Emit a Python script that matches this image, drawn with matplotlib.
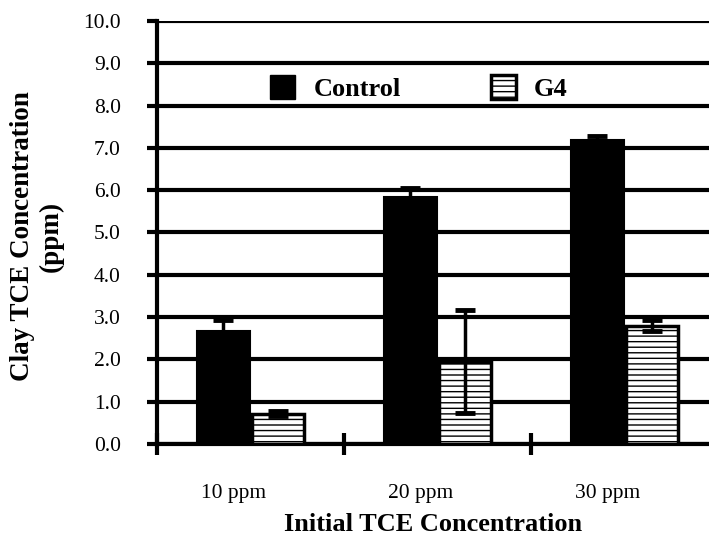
import matplotlib
matplotlib.use("Agg")
import matplotlib.pyplot as plt
import matplotlib.transforms as mtransforms
from matplotlib.patches import Patch
import numpy as np

plt.rcParams['font.family'] = ['Liberation Serif', 'DejaVu Serif']
plt.rcParams['hatch.linewidth'] = 1.0

categories = ['10 ppm', '20 ppm', '30 ppm']
control = [2.67, 5.84, 7.19]
control_err = [0.25, 0.22, 0.10]
g4 = [0.72, 1.95, 2.80]
g4_err = [0.05, 1.22, 0.13]
yticks = [0, 1, 2, 3, 4, 5, 6, 7, 8, 9, 10]

fig = plt.figure(figsize=(7.09, 5.35), dpi=100)
ax = fig.add_axes([157/709, 1-444/535, 1-157/709, (444-21)/535])

x = np.arange(len(categories))
w = 0.28
ax.bar(x - 0.145, control, w, color='black', edgecolor='black', linewidth=1.5,
       yerr=control_err, error_kw=dict(ecolor='black', elinewidth=2.5, capsize=7, capthick=3.5),
       zorder=3, label='Control')
ax.bar(x + 0.148, g4, w, color='white', edgecolor='black', linewidth=2.5, hatch='---',
       yerr=g4_err, error_kw=dict(ecolor='black', elinewidth=2.5, capsize=7, capthick=3.5),
       zorder=3, label='G4')

ax.set_ylim(0, 10)
ax.set_xlim(-0.5, -0.5 + (709-157)/187)
ax.set_yticks(yticks)
ax.set_yticklabels([f'{v:.1f}' for v in yticks], fontsize=15.5)
ax.yaxis.grid(True, color='black', linewidth=3, zorder=0)
ax.set_axisbelow(True)

ax.set_xticks(x)
ax.set_xticklabels(categories, fontsize=15.5)
ax.set_xticks([-0.5, 0.5, 1.5], minor=True)
ax.tick_params(axis='x', which='major', length=0, pad=29)
ax.tick_params(axis='x', which='minor', direction='inout', length=16, width=3)
ax.tick_params(axis='y', which='major', direction='out', length=7, width=3, pad=19)
offset = mtransforms.ScaledTranslation(-17/100, 0, fig.dpi_scale_trans)
for lab in ax.get_xticklabels():
    lab.set_transform(lab.get_transform() + offset)

for s in ['top', 'right']:
    ax.spines[s].set_visible(False)
ax.spines['left'].set_linewidth(3)
ax.spines['bottom'].set_linewidth(3)

ax.set_xlabel('Initial TCE Concentration', fontsize=19, fontweight='bold', labelpad=7)
fig.text(37/709, 1-236/535, 'Clay TCE Concentration\n(ppm)', rotation=90,
         ha='center', va='center', fontsize=19.5, fontweight='bold', multialignment='center')

handles = [Patch(facecolor='black', edgecolor='black', label='Control'),
           Patch(facecolor='white', edgecolor='black', linewidth=2.5, hatch='---', label='G4')]
ax.legend(handles=handles, loc='center left', bbox_to_anchor=(0.205, 0.842), ncol=2,
          frameon=False, prop=dict(weight='bold', size=19),
          handlelength=0.95, handleheight=1.0, handletextpad=0.7, columnspacing=3.4,
          borderpad=0, borderaxespad=0)

fig.savefig('out.png', dpi=100)
